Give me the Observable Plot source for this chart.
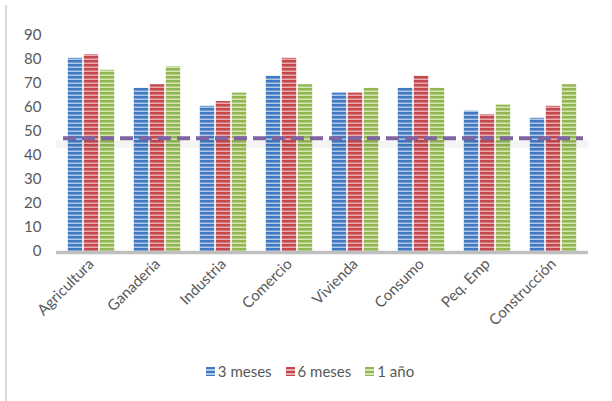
<!DOCTYPE html>
<html>
<head>
<meta charset="utf-8">
<script src="https://cdn.jsdelivr.net/npm/d3@7"></script>
<script src="https://cdn.jsdelivr.net/npm/@observablehq/plot@0.6"></script>
<style>
  html, body { margin: 0; padding: 0; background: #fff; }
  #wrap { position: relative; width: 612px; height: 401px; overflow: hidden; font-family: Lato, "Open Sans", sans-serif; }
  #border { position: absolute; left: 5px; top: 5px; width: 2px; height: 396px; background: #d9d9d9; }
  #legend { position: absolute; left: 0; top: 362px; width: 612px; display: flex; justify-content: center; gap: 14px; font-size: 15px; color: #595959; padding-left: 8px; box-sizing: border-box; }
  .item { display: flex; align-items: center; }
  .sw { width: 9px; height: 9px; margin-right: 3px; }
</style>
</head>
<body>
<div id="wrap">
  <div id="border"></div>
  <div id="chart"></div>
  <div id="legend"></div>
</div>
<script>
const categories = ["Agricultura", "Ganadería", "Industria", "Comercio", "Vivienda", "Consumo", "Peq. Emp", "Construcción"];
const seriesNames = ["3 meses", "6 meses", "1 año"];
const meses3 = [80.5, 68, 60.5, 73, 66, 68, 58.5, 55.5];
const meses6 = [82, 69.5, 62.5, 80.5, 66, 73, 57, 60.5];
const anio1 = [75.5, 77, 66, 69.5, 68, 68, 61, 69.5];
const promedio = 47.2;
const yTicks = [0, 10, 20, 30, 40, 50, 60, 70, 80, 90];

const colorsDark = ["#4079c2", "#c4474d", "#92b651"];
const colorsLight = ["#aec7e8", "#e8aaac", "#d5e5b5"];
const patIds = ["pat0", "pat1", "pat2"];

const seriesValues = [meses3, meses6, anio1];
const data = [];
categories.forEach((c, i) => {
  seriesNames.forEach((s, j) => data.push({category: c, series: s, value: seriesValues[j][i]}));
});

const barInset = 25.8;
const barOffsets = [-16, 0, 16];

const plot = Plot.plot({
  width: 612,
  height: 355,
  marginLeft: 56,
  marginRight: 24,
  marginTop: 35,
  marginBottom: 104,
  style: {fontFamily: "Lato, 'Open Sans', sans-serif", color: "#595959", background: "transparent"},
  x: {domain: categories, padding: 0, label: null},
  y: {domain: [0, 90], label: null},
  color: {domain: seriesNames, range: patIds.map(id => `url(#${id})`)},
  marks: [
    ...seriesNames.map((s, j) => Plot.barY(data.filter(d => d.series === s), {
      x: "category", y: "value", fill: "series",
      insetLeft: barInset, insetRight: barInset, dx: barOffsets[j]
    })),
    Plot.ruleY([promedio], {stroke: "#000", strokeOpacity: 0.045, strokeWidth: 8, dy: 6}),
    Plot.ruleY([promedio], {stroke: "#8064a2", strokeWidth: 4, strokeDasharray: "13,6", insetLeft: 7, insetRight: 5}),
    Plot.ruleY([0], {stroke: "#bfbfbf", strokeWidth: 3.5, dy: 1}),
    Plot.axisY(yTicks, {tickSize: 0, tickPadding: 15, fontSize: 15, label: null, fill: "#595959"}),
    Plot.axisX({tickSize: 0, tickRotate: -45, tickPadding: 10, dx: 0, fontSize: 15, label: null, fill: "#595959"})
  ]
});

// stripe patterns
const ns = "http://www.w3.org/2000/svg";
const defs = document.createElementNS(ns, "defs");
patIds.forEach((id, k) => {
  const p = document.createElementNS(ns, "pattern");
  p.setAttribute("id", id);
  p.setAttribute("patternUnits", "userSpaceOnUse");
  p.setAttribute("width", 8);
  p.setAttribute("height", 4);
  const r1 = document.createElementNS(ns, "rect");
  r1.setAttribute("width", 8); r1.setAttribute("height", 4); r1.setAttribute("fill", colorsLight[k]);
  const r2 = document.createElementNS(ns, "rect");
  r2.setAttribute("width", 8); r2.setAttribute("height", 2.5); r2.setAttribute("fill", colorsDark[k]);
  p.appendChild(r1); p.appendChild(r2);
  defs.appendChild(p);
});
plot.insertBefore(defs, plot.firstChild);
document.getElementById("chart").appendChild(plot);

const legend = document.getElementById("legend");
seriesNames.forEach((s, k) => {
  const it = document.createElement("div");
  it.className = "item";
  const sw = document.createElement("div");
  sw.className = "sw";
  sw.style.background = `repeating-linear-gradient(to bottom, ${colorsDark[k]} 0px, ${colorsDark[k]} 2.5px, ${colorsLight[k]} 2.5px, ${colorsLight[k]} 4px)`;
  const t = document.createElement("span");
  t.textContent = s;
  it.appendChild(sw); it.appendChild(t);
  legend.appendChild(it);
});
</script>
</body>
</html>
